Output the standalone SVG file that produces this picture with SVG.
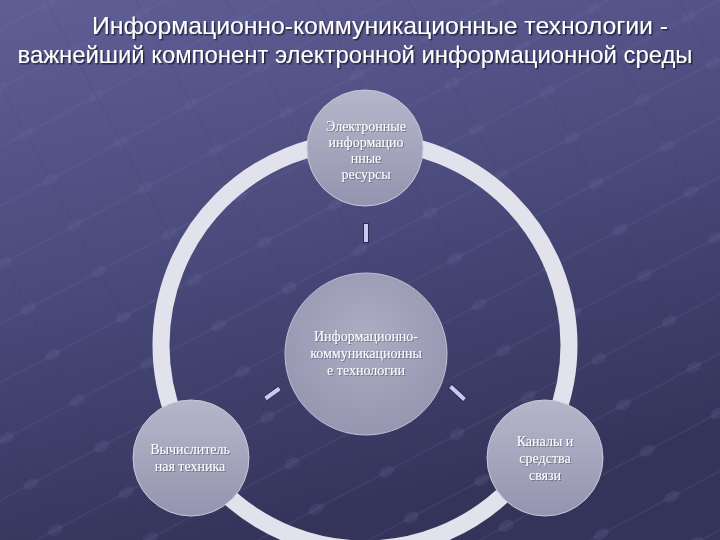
<svg xmlns="http://www.w3.org/2000/svg" width="720" height="540" viewBox="0 0 720 540">
  <defs>
    <linearGradient id="bg" x1="0" y1="0" x2="0.3" y2="1">
      <stop offset="0" stop-color="#5f5f96"/>
      <stop offset="0.5" stop-color="#4a4a7c"/>
      <stop offset="1" stop-color="#34345b"/>
    </linearGradient>
    <pattern id="grid" patternUnits="userSpaceOnUse" width="80" height="52" patternTransform="rotate(-28)">
      <line x1="0" y1="26" x2="80" y2="26" stroke="#8080b0" stroke-opacity="0.22" stroke-width="1"/>
      <line x1="40" y1="0" x2="40" y2="52" stroke="#2a2a50" stroke-opacity="0.15" stroke-width="1"/>
      <ellipse cx="40" cy="26" rx="8" ry="5" fill="#6a6aa0" fill-opacity="0.22"/>
    </pattern>
    <linearGradient id="node" x1="0" y1="0" x2="0" y2="1">
      <stop offset="0" stop-color="#b6b6ca"/>
      <stop offset="1" stop-color="#9494b0"/>
    </linearGradient>
    <radialGradient id="centerNode" cx="0.5" cy="0.4" r="0.6">
      <stop offset="0" stop-color="#acacc3"/>
      <stop offset="1" stop-color="#9696b1"/>
    </radialGradient>
    <filter id="sh" x="-10%" y="-10%" width="120%" height="130%">
      <feDropShadow dx="1.5" dy="1.5" stdDeviation="0.6" flood-color="#1a1a30" flood-opacity="0.8"/>
    </filter>
    <filter id="shl" x="-10%" y="-10%" width="120%" height="130%">
      <feDropShadow dx="1" dy="1" stdDeviation="0.5" flood-color="#50506a" flood-opacity="0.6"/>
    </filter>
  </defs>
  <style>
    .title { font-family: "Liberation Sans", Arial, sans-serif; font-size: 24px; fill: #ffffff; text-anchor: middle; }
    .lbl { font-family: "Liberation Serif", "Times New Roman", serif; font-size: 14px; fill: #ffffff; text-anchor: middle; }
    .circ { fill: url(#node); stroke: #c8c8dc; stroke-width: 1; }
    .tick { stroke: #c8c8f2; stroke-width: 4; stroke-linecap: butt; }
    .tickb { stroke: #2c2c52; stroke-width: 6; }
  </style>

  <rect width="720" height="540" fill="url(#bg)"/>
  <rect width="720" height="540" fill="url(#grid)"/>

  <g id="title" filter="url(#sh)">
    <text class="title" x="380" y="34" textLength="576" lengthAdjust="spacingAndGlyphs">Информационно-коммуникационные технологии -</text>
    <text class="title" x="355" y="63" textLength="675" lengthAdjust="spacingAndGlyphs">важнейший компонент электронной информационной среды</text>
  </g>

  <g id="ring">
    <circle cx="365" cy="345" r="204" fill="none" stroke="#e2e2ec" stroke-width="17"/>
  </g>

  <g id="connectors">
    <line class="tickb" x1="366" y1="223" x2="366" y2="243"/>
    <line class="tick" x1="366" y1="224" x2="366" y2="242"/>
    <line class="tickb" x1="265" y1="399" x2="280" y2="388"/>
    <line class="tick" x1="265.5" y1="398.5" x2="279.5" y2="388.5"/>
    <line class="tickb" x1="450" y1="386" x2="465" y2="400"/>
    <line class="tick" x1="450.5" y1="386.5" x2="464.5" y2="399.5"/>
  </g>

  <g id="node-center">
    <circle cx="366" cy="354" r="81" fill="url(#centerNode)" stroke="#c0c0d4" stroke-width="1"/>
    <text class="lbl" x="366" y="341" filter="url(#shl)">Информационно-</text>
    <text class="lbl" x="366" y="358" filter="url(#shl)">коммуникационны</text>
    <text class="lbl" x="366" y="375" filter="url(#shl)">е технологии</text>
  </g>

  <g id="node-top">
    <circle class="circ" cx="365" cy="148" r="58"/>
    <text class="lbl" x="366" y="131" filter="url(#shl)">Электронные</text>
    <text class="lbl" x="366" y="147" filter="url(#shl)">информацио</text>
    <text class="lbl" x="366" y="163" filter="url(#shl)">нные</text>
    <text class="lbl" x="366" y="179" filter="url(#shl)">ресурсы</text>
  </g>

  <g id="node-left">
    <circle class="circ" cx="191" cy="458" r="58"/>
    <text class="lbl" x="190" y="454" filter="url(#shl)">Вычислитель</text>
    <text class="lbl" x="190" y="471" filter="url(#shl)">ная техника</text>
  </g>

  <g id="node-right">
    <circle class="circ" cx="545" cy="458" r="58"/>
    <text class="lbl" x="545" y="446" filter="url(#shl)">Каналы и</text>
    <text class="lbl" x="545" y="463" filter="url(#shl)">средства</text>
    <text class="lbl" x="545" y="480" filter="url(#shl)">связи</text>
  </g>
</svg>
